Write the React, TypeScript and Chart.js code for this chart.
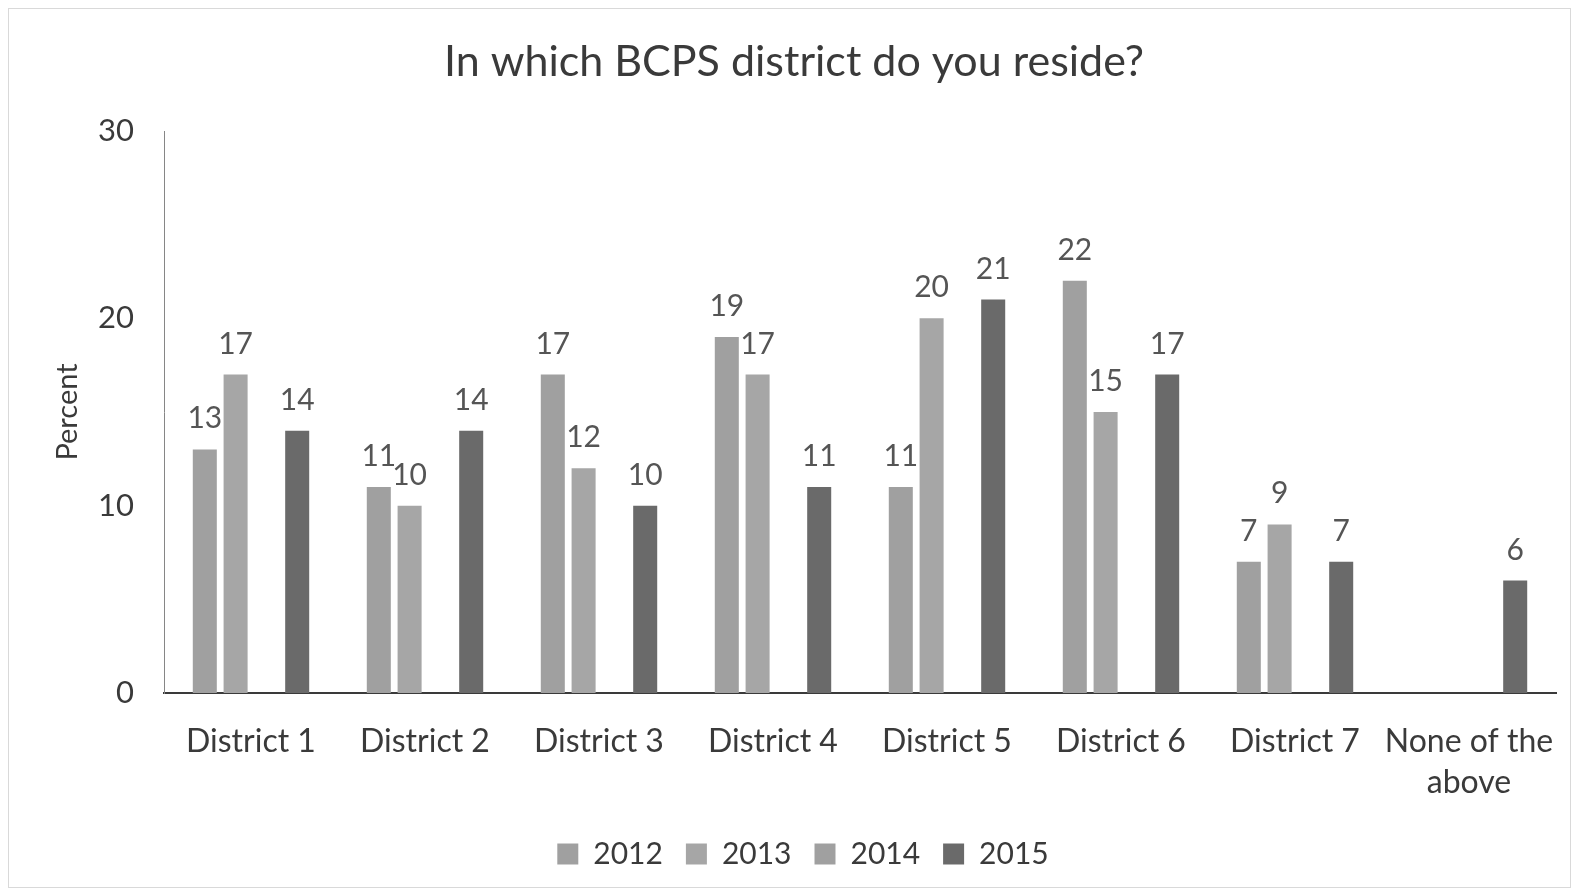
import React, { useEffect, useRef } from 'react';
import { Chart, registerables } from 'chart.js';

Chart.register(...registerables);

const categories: (string | string[])[] = [
  'District 1',
  'District 2',
  'District 3',
  'District 4',
  'District 5',
  'District 6',
  'District 7',
  ['None of the', 'above'],
];

const seriesNames = ['2012', '2013', '2014', '2015'];
const values2012: (number | null)[] = [13, 11, 17, 19, 11, 22, 7, 0];
const values2013: (number | null)[] = [17, 10, 12, 17, 20, 15, 9, 0];
const values2014: (number | null)[] = [null, null, null, null, null, null, null, null];
const values2015: (number | null)[] = [14, 14, 10, 11, 21, 17, 7, 6];
const seriesColors = ['#a0a0a0', '#a6a6a6', '#a0a0a0', '#6a6a6a'];

const titleText = 'In which BCPS district do you reside?';
const yAxisTitle = 'Percent';
const yMin = 0;
const yMax = 30;
const yStep = 10;

const FONT = 'Lato, "Open Sans", sans-serif';
const TEXT = '#3a3a3a';

const valueLabelPlugin = {
  id: 'valueLabels',
  afterDatasetsDraw(chart: any) {
    const ctx = chart.ctx;
    ctx.save();
    ctx.font = `30px ${FONT}`;
    ctx.fillStyle = '#555555';
    ctx.textAlign = 'center';
    ctx.textBaseline = 'alphabetic';
    chart.data.datasets.forEach((ds: any, i: number) => {
      const meta = chart.getDatasetMeta(i);
      if (meta.hidden) return;
      meta.data.forEach((el: any, j: number) => {
        const v = ds.data[j];
        if (v == null || v === 0) return;
        ctx.fillText(String(v), el.x, el.y - 21);
      });
    });
    ctx.restore();
  },
};

const boxShiftPlugin = {
  id: 'boxShift',
  afterLayout(chart: any) {
    if (chart.legend) {
      chart.legend.left += 21;
      chart.legend.right += 21;
    }
    if (chart.titleBlock) {
      chart.titleBlock.left += 12;
      chart.titleBlock.right += 12;
    }
  },
};

export default function App() {
  const ref = useRef<HTMLCanvasElement | null>(null);

  useEffect(() => {
    if (!ref.current) return;
    const allValues = [values2012, values2013, values2014, values2015];
    const chart = new Chart(ref.current, {
      type: 'bar',
      data: {
        labels: categories as any,
        datasets: seriesNames.map((name, i) => ({
          label: name,
          data: allValues[i],
          backgroundColor: seriesColors[i],
          borderWidth: 0,
          categoryPercentage: 0.708,
          barPercentage: 0.78,
        })),
      },
      options: {
        animation: false,
        responsive: true,
        maintainAspectRatio: false,
        layout: { padding: { left: 0, right: 15, top: 0, bottom: 9 } },
        plugins: {
          tooltip: { enabled: false },
          title: {
            display: true,
            text: titleText,
            color: TEXT,
            font: { family: FONT, size: 43, weight: 'normal', lineHeight: 1.2 },
            padding: { top: 28.6, bottom: 42.8 },
          },
          legend: {
            display: true,
            position: 'bottom',
            labels: {
              color: TEXT,
              font: { family: FONT, size: 30 },
              boxWidth: 21,
              boxHeight: 21,
              padding: 23,
            },
          },
        },
        scales: {
          x: {
            grid: { display: false },
            border: { display: true, color: '#3a3a3a', width: 2 },
            ticks: {
              color: TEXT,
              font: { family: FONT, size: 32, lineHeight: 1.29 },
              padding: 20,
              maxRotation: 0,
              autoSkip: false,
            },
            afterFit: (s: any) => {
              s.height = 123;
              s.paddingLeft = 0;
              s.paddingRight = 0;
            },
          },
          y: {
            min: yMin,
            max: yMax,
            grid: { display: false, drawTicks: false },
            border: { display: true, color: '#868686', width: 1 },
            ticks: {
              stepSize: yStep,
              color: TEXT,
              font: { family: FONT, size: 31 },
              padding: 30,
            },
            title: {
              display: true,
              text: yAxisTitle,
              color: TEXT,
              font: { family: FONT, size: 29, lineHeight: 1.2 },
              padding: { top: 42, bottom: 0 },
            },
            afterFit: (s: any) => {
              s.width = 156;
            },
          },
        },
      },
      plugins: [valueLabelPlugin, boxShiftPlugin],
    });
    return () => chart.destroy();
  }, []);

  return (
    <div
      style={{
        width: 1563,
        height: 880,
        position: 'relative',
        outline: '1px solid #d9d9d9',
        outlineOffset: -1,
        background: '#fff',
      }}
    >
      <canvas ref={ref} />
    </div>
  );
}
